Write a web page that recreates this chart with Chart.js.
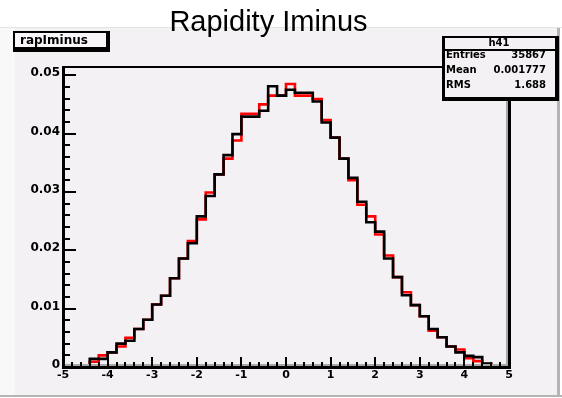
<!DOCTYPE html>
<html><head><meta charset="utf-8">
<script src="https://cdn.jsdelivr.net/npm/chart.js@4/dist/chart.umd.min.js"></script>
<style>html,body{margin:0;padding:0;background:#fff;}canvas{display:block}</style>
</head><body>
<canvas id="c" width="562" height="398"></canvas>
<script>
const titleText = 'Rapidity Iminus';
const histTitle = 'rapIminus';
const statsName = 'h41';
const statsLabels = ['Entries', 'Mean', 'RMS'];
const statsValues = ['35867', '0.001777', '1.688'];

const binLow = [-5.0,-4.8,-4.6,-4.4,-4.2,-4.0,-3.8,-3.6,-3.4,-3.2,
                -3.0,-2.8,-2.6,-2.4,-2.2,-2.0,-1.8,-1.6,-1.4,-1.2,
                -1.0,-0.8,-0.6,-0.4,-0.2, 0.0, 0.2, 0.4, 0.6, 0.8,
                 1.0, 1.2, 1.4, 1.6, 1.8, 2.0, 2.2, 2.4, 2.6, 2.8,
                 3.0, 3.2, 3.4, 3.6, 3.8, 4.0, 4.2, 4.4, 4.6, 4.8];
const xUpper = 5.0;

const blackValues = [0, 0, 0.0003, 0.0014, 0.0014, 0.0025, 0.0040, 0.0045, 0.0065, 0.0081,
  0.0107, 0.0122, 0.0152, 0.0186, 0.0212, 0.0258, 0.0293, 0.0330, 0.0363, 0.0399,
  0.0429, 0.0429, 0.0439, 0.0481, 0.0465, 0.0475, 0.0470, 0.0470, 0.0455, 0.0419,
  0.0393, 0.0357, 0.0324, 0.0283, 0.0248, 0.0232, 0.0186, 0.0154, 0.0123, 0.0106,
  0.0087, 0.0065, 0.0051, 0.0035, 0.0025, 0.0019, 0.0017, 0.0006, 0.0002, 0];

const redValues = [0, 0, 0.0002, 0.0009, 0.0020, 0.0025, 0.0035, 0.0050, 0.0065, 0.0081,
  0.0107, 0.0122, 0.0152, 0.0186, 0.0216, 0.0253, 0.0299, 0.0330, 0.0357, 0.0388,
  0.0434, 0.0434, 0.0450, 0.0465, 0.0465, 0.0485, 0.0465, 0.0465, 0.0459, 0.0423,
  0.0393, 0.0357, 0.0320, 0.0278, 0.0258, 0.0227, 0.0191, 0.0154, 0.0128, 0.0106,
  0.0087, 0.0062, 0.0051, 0.0035, 0.0030, 0.0015, 0.0010, 0.0005, 0.0002, 0];

const xTickValues = [-5,-4,-3,-2,-1,0,1,2,3,4,5];
const xTickLabels = ['-5','-4','-3','-2','-1','0','1','2','3','4','5'];
const yTickValues = [0, 0.01, 0.02, 0.03, 0.04, 0.05];
const yTickLabels = ['0','0.01','0.02','0.03','0.04','0.05'];
const yMax = 0.0514;

function histPoints(vals) {
  const pts = binLow.map((x, i) => ({x: x, y: vals[i]}));
  pts.push({x: xUpper, y: 0});
  return pts;
}

const rootPlugin = {
  id: 'rootPad',
  beforeDraw(chart) {
    const ctx = chart.ctx;
    ctx.save();
    ctx.fillStyle = '#ffffff'; ctx.fillRect(0, 0, 562, 398);
    ctx.fillStyle = '#f8f8f8'; ctx.fillRect(0, 28, 15, 368);
    ctx.fillStyle = '#f4f1f4'; ctx.fillRect(15, 28, 542, 367);
    ctx.fillStyle = '#e4e4e4'; ctx.fillRect(0, 27, 562, 1);
    ctx.fillStyle = '#b4b4b4'; ctx.fillRect(0, 395, 562, 2);
    ctx.fillRect(557, 28, 3, 368);
    ctx.restore();
  },
  afterDatasetsDraw(chart) {
    const {ctx, chartArea: a, scales: {x, y}} = chart;
    ctx.save();
    ctx.fillStyle = '#a8a8a8';
    ctx.fillRect(a.left + 2, a.bottom - 3, a.right - a.left - 2, 2);
    ctx.fillRect(a.right - 3, a.top, 2, a.bottom - a.top);
    ctx.fillStyle = '#000';
    for (let k = 0; k <= 50; k++) {
      const px = Math.round(x.getPixelForValue(-5 + 0.2 * k));
      const len = k % 5 === 0 ? 10 : 5;
      ctx.fillRect(px - 1, a.bottom - len, 2, len);
    }
    for (let k = 0; k <= 25; k++) {
      const py = Math.round(y.getPixelForValue(0.002 * k));
      const len = k % 5 === 0 ? 13 : 7;
      ctx.fillRect(a.left, py - 1, len, 2);
    }
    ctx.fillRect(a.left - 1, a.top - 1, 3, a.bottom - a.top + 3);
    ctx.fillRect(a.left - 1, a.bottom - 1, a.right - a.left + 3, 3);
    ctx.fillRect(a.left - 1, a.top - 1, a.right - a.left + 3, 2);
    ctx.fillRect(a.right - 1, a.top - 1, 3, a.bottom - a.top + 3);
    ctx.restore();
  },
  afterDraw(chart) {
    const ctx = chart.ctx;
    ctx.save();
    // histogram title box
    ctx.fillStyle = '#000'; ctx.fillRect(13, 31, 97, 21);
    ctx.fillStyle = '#f8f6f8'; ctx.fillRect(15, 33, 91, 14);
    ctx.fillStyle = '#000';
    ctx.font = 'bold 12px "DejaVu Sans"';
    ctx.textBaseline = 'middle'; ctx.textAlign = 'left';
    ctx.fillText(histTitle, 20, 40.5);
    // stats box
    ctx.fillStyle = '#000'; ctx.fillRect(442, 36, 117, 65);
    ctx.fillStyle = '#f4f1f4'; ctx.fillRect(445, 38, 110, 59);
    ctx.fillStyle = '#000'; ctx.fillRect(445, 49, 110, 2);
    ctx.font = 'bold 10px "DejaVu Sans"';
    ctx.textAlign = 'center';
    ctx.fillText(statsName, 499, 43);
    const rowsY = [55.5, 70, 85];
    for (let i = 0; i < statsLabels.length; i++) {
      ctx.textAlign = 'left'; ctx.fillText(statsLabels[i], 446, rowsY[i]);
      ctx.textAlign = 'right'; ctx.fillText(statsValues[i], 546, rowsY[i]);
    }
    ctx.restore();
  }
};

new Chart(document.getElementById('c'), {
  type: 'line',
  data: {
    datasets: [
      {label: 'black', data: histPoints(blackValues), borderColor: '#000000', borderWidth: 2.6,
       stepped: 'before', pointRadius: 0, fill: false, tension: 0},
      {label: 'red', data: histPoints(redValues), borderColor: '#ff0000', borderWidth: 2.6,
       stepped: 'before', pointRadius: 0, fill: false, tension: 0}
    ]
  },
  options: {
    responsive: false, animation: false, devicePixelRatio: 1,
    layout: {padding: {left: 28, right: 53, top: 0, bottom: 0}},
    plugins: {
      legend: {display: false}, tooltip: {enabled: false},
      title: {display: true, text: titleText, color: '#000',
              font: {family: '"Liberation Sans", Arial', size: 29, weight: 'normal', lineHeight: 1.2},
              padding: {top: 5.2, bottom: 27}}
    },
    scales: {
      x: {type: 'linear', min: -5, max: 5,
          afterFit(s) { s.height = 31; },
          afterBuildTicks(s) { s.ticks = xTickValues.map(v => ({value: v})); },
          grid: {display: false, drawTicks: false}, border: {display: false},
          ticks: {color: '#000', padding: 2, maxRotation: 0, autoSkip: false,
                  font: {family: '"DejaVu Sans"', size: 11, weight: 'bold'},
                  callback: (v) => xTickLabels[xTickValues.indexOf(v)]}},
      y: {type: 'linear', min: 0, max: yMax,
          afterFit(s) { s.width = 35; },
          afterBuildTicks(s) { s.ticks = yTickValues.map(v => ({value: v})); },
          grid: {display: false, drawTicks: false}, border: {display: false},
          ticks: {color: '#000', padding: 3, labelOffset: -2, autoSkip: false,
                  font: {family: '"DejaVu Sans"', size: 12, weight: 'bold'},
                  callback: (v) => yTickLabels[yTickValues.indexOf(v)]}}
    }
  },
  plugins: [rootPlugin]
});
</script>
</body></html>
